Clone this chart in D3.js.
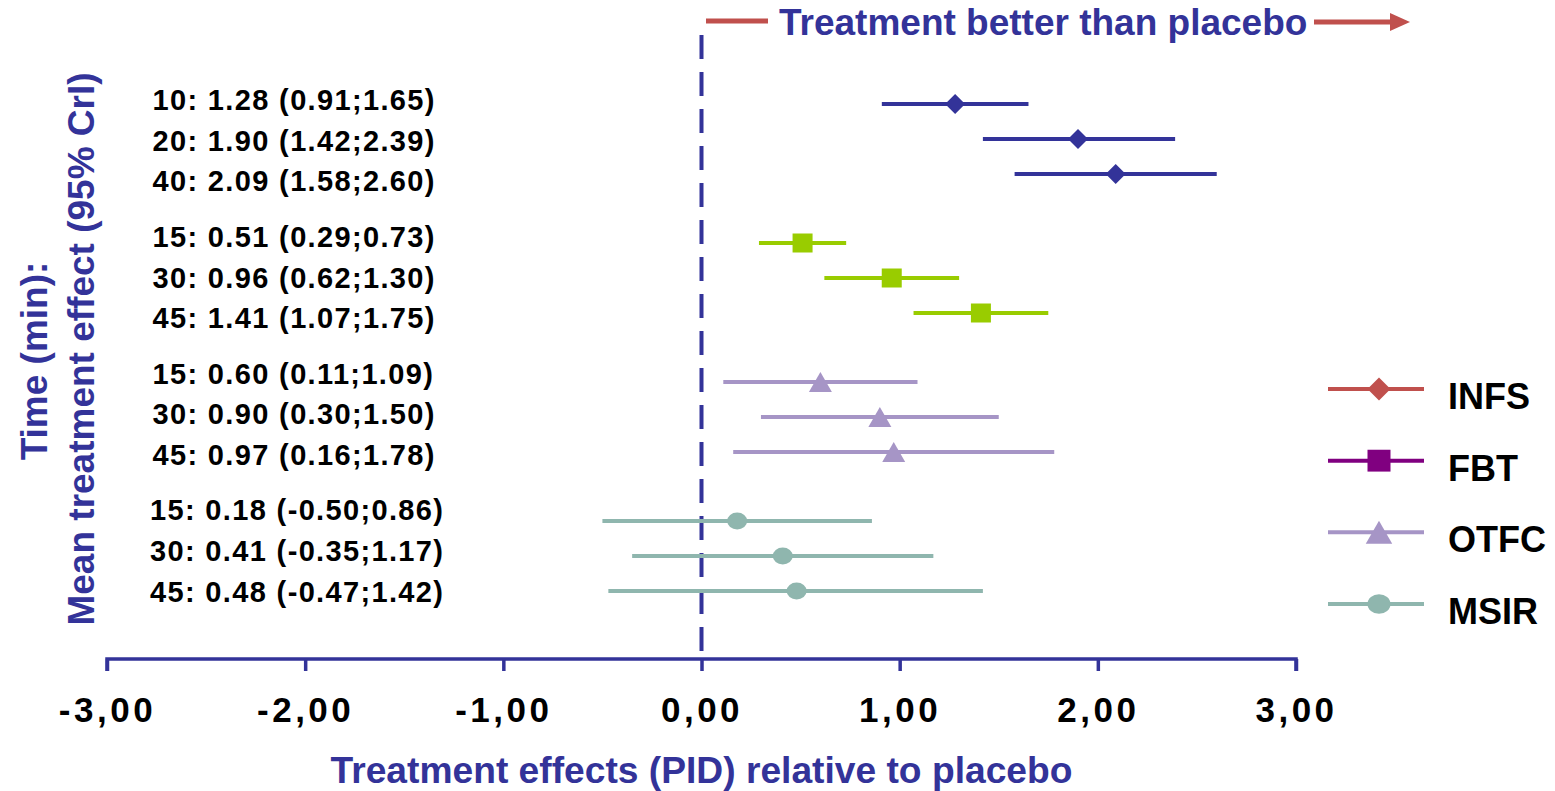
<!DOCTYPE html>
<html>
<head>
<meta charset="utf-8">
<script src="https://cdn.jsdelivr.net/npm/d3@7"></script>
<style>
  html, body { margin: 0; padding: 0; background: #fff; }
  svg { display: block; font-family: "Liberation Sans", Arial, sans-serif; font-weight: bold; }
</style>
</head>
<body>
<svg id="chart" width="1555" height="791"></svg>
<script>
// ---------- data ----------
const groupNames = ["INFS", "FBT", "OTFC", "MSIR"];
const rowGroup = [0, 0, 0, 1, 1, 1, 2, 2, 2, 3, 3, 3];
const rowTimes = [10, 20, 40, 15, 30, 45, 15, 30, 45, 15, 30, 45];
const means = [1.28, 1.90, 2.09, 0.51, 0.96, 1.41, 0.60, 0.90, 0.97, 0.18, 0.41, 0.48];
const lowers = [0.91, 1.42, 1.58, 0.29, 0.62, 1.07, 0.11, 0.30, 0.16, -0.50, -0.35, -0.47];
const uppers = [1.65, 2.39, 2.60, 0.73, 1.30, 1.75, 1.09, 1.50, 1.78, 0.86, 1.17, 1.42];
const xTicks = [-3, -2, -1, 0, 1, 2, 3];
const titleText = "Treatment better than placebo";
const xAxisTitle = "Treatment effects (PID) relative to placebo";
const yAxisTitle = ["Time (min):", "Mean treatment effect (95% CrI)"];

// ---------- styles ----------
const blue = "#333399";
const plotColors = ["#333399", "#99cc00", "#a695c6", "#8fb6ae"];
const legendColors = ["#c0504d", "#800080", "#a695c6", "#8fb6ae"];
const shapes = ["diamond", "square", "triangle", "circle"];

const svg = d3.select("#chart");
const x = d3.scaleLinear().domain([-3, 3]).range([107, 1296]);
const axisY = 659;

const rowIndex = rowGroup.map((g, i) => i - rowGroup.indexOf(g));
const markerY = d3.scaleLinear().domain([0, 1]).range([104, 139]);
const markerYOf = i => markerY(rowGroup[i] * (139 / 35) + rowIndex[i]);
const labelYOf = i => 99.5 + rowGroup[i] * 136.8 + rowIndex[i] * 40.7;

function drawMarker(sel, shape, color, cx, cy, s) {
  if (shape === "diamond") {
    sel.append("path")
      .attr("d", `M${cx},${cy - s}L${cx + s},${cy}L${cx},${cy + s}L${cx - s},${cy}Z`)
      .attr("fill", color);
  } else if (shape === "square") {
    sel.append("rect")
      .attr("x", cx - s).attr("y", cy - s * 0.95)
      .attr("width", 2 * s).attr("height", 1.9 * s)
      .attr("fill", color);
  } else if (shape === "triangle") {
    const w = s * 1.15, h = s;
    sel.append("path")
      .attr("d", `M${cx},${cy - h}L${cx + w},${cy + h}L${cx - w},${cy + h}Z`)
      .attr("fill", color);
  } else {
    sel.append("ellipse")
      .attr("cx", cx).attr("cy", cy)
      .attr("rx", s).attr("ry", s * 0.85)
      .attr("fill", color);
  }
}

// ---------- x axis ----------
const locale = d3.formatLocale({ decimal: ",", thousands: ".", grouping: [3], currency: ["", ""], minus: "-" });
const fmt = locale.format(".2f");
const xAxis = d3.axisBottom(x).tickValues(xTicks).tickSize(12).tickFormat(fmt);
const gx = svg.append("g").attr("transform", `translate(0,${axisY})`).call(xAxis);
gx.select(".domain").attr("stroke", blue).attr("stroke-width", 3.5)
  .attr("d", `M${x(-3)},12V0H${x(3)}V12`);
gx.selectAll(".tick line").attr("stroke", blue).attr("stroke-width", 3.5);
gx.selectAll(".tick text")
  .attr("y", 63).attr("dy", null)
  .attr("fill", "#000")
  .style("font-size", "35px")
  .style("letter-spacing", "3.5px")
  .style("font-family", "'Liberation Sans', Arial, sans-serif")
  .style("font-weight", "bold");

// ---------- zero dashed line ----------
svg.append("line")
  .attr("x1", x(0)).attr("x2", x(0))
  .attr("y1", 35).attr("y2", axisY - 2)
  .attr("stroke", blue).attr("stroke-width", 4)
  .attr("stroke-dasharray", "24,13");

// ---------- error bars & markers ----------
const plot = svg.append("g");
means.forEach((m, i) => {
  const g = rowGroup[i];
  const cy = markerYOf(i);
  plot.append("line")
    .attr("x1", x(lowers[i])).attr("x2", x(uppers[i]))
    .attr("y1", cy).attr("y2", cy)
    .attr("stroke", plotColors[g]).attr("stroke-width", 4);
  drawMarker(plot, shapes[g], plotColors[g], x(m), cy, 10);
});

// ---------- row labels ----------
const f2 = locale.format(".2f");
const f2dot = v => f2(v).replace(",", ".");
const labels = svg.append("g");
means.forEach((m, i) => {
  labels.append("text")
    .attr("x", rowGroup[i] === 3 ? 150 : 152.5)
    .attr("y", labelYOf(i) + 10.5)
    .attr("fill", "#000")
    .style("font-size", "29px")
    .style("letter-spacing", "1.35px")
    .text(`${rowTimes[i]}: ${f2dot(m)} (${f2dot(lowers[i])};${f2dot(uppers[i])})`);
});

// ---------- top annotation ----------
svg.append("line").attr("x1", 706).attr("x2", 768).attr("y1", 21).attr("y2", 21)
  .attr("stroke", "#c0504d").attr("stroke-width", 5);
svg.append("text").attr("x", 779).attr("y", 35).attr("fill", blue)
  .style("font-size", "37px").text(titleText);
svg.append("line").attr("x1", 1314).attr("x2", 1392).attr("y1", 22).attr("y2", 22)
  .attr("stroke", "#c0504d").attr("stroke-width", 5);
svg.append("path").attr("d", "M1390,13L1410,22L1390,31Z").attr("fill", "#c0504d");

// ---------- axis titles ----------
svg.append("text").attr("x", 701.5).attr("y", 783).attr("text-anchor", "middle")
  .attr("fill", blue).style("font-size", "37.2px").text(xAxisTitle);

svg.append("text").attr("transform", "translate(47,361) rotate(-90)")
  .attr("fill", blue).attr("text-anchor", "middle").style("font-size", "37px")
  .text(yAxisTitle[0]);
svg.append("text").attr("transform", "translate(94,349) rotate(-90)")
  .attr("fill", blue).attr("text-anchor", "middle").style("font-size", "37px")
  .text(yAxisTitle[1]);

// ---------- legend ----------
const legend = svg.append("g");
const legendY = d3.scaleLinear().domain([0, 3]).range([389, 604]);
groupNames.forEach((name, g) => {
  const cy = legendY(g);
  legend.append("line").attr("x1", 1328).attr("x2", 1424).attr("y1", cy).attr("y2", cy)
    .attr("stroke", legendColors[g]).attr("stroke-width", 4);
  drawMarker(legend, shapes[g], legendColors[g], 1379, cy, 11.5);
  legend.append("text").attr("x", 1448).attr("y", cy + 20)
    .attr("fill", "#000").style("font-size", "36px").text(name);
});
</script>
</body>
</html>
